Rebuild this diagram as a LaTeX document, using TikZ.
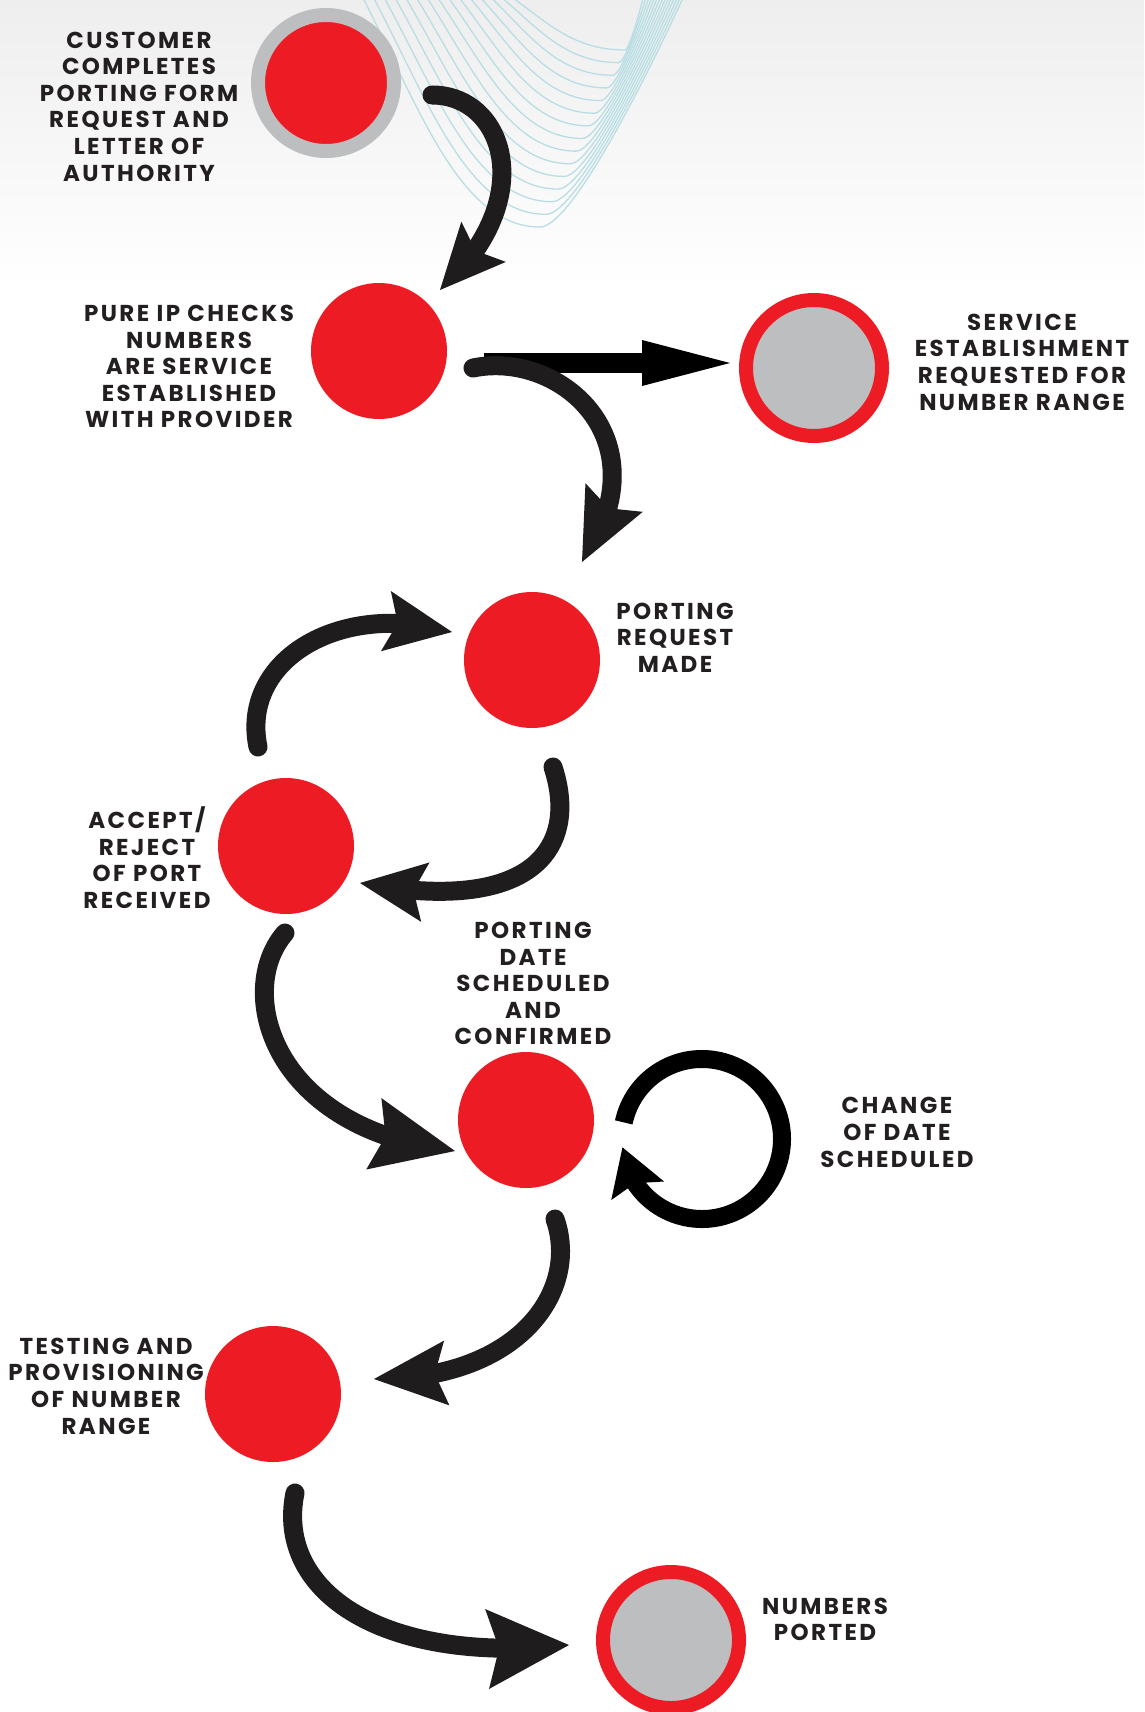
\documentclass[tikz,border=0pt]{standalone}
\usepackage{fontspec}
\setmainfont{Poppins}[LetterSpace=10.5]
\usetikzlibrary{arrows.meta,bending,calc}
\definecolor{pred}{HTML}{ED1C24}
\definecolor{pgrey}{HTML}{BCBEC0}
\definecolor{pblack}{HTML}{231F20}
\definecolor{arrowc}{HTML}{1E1C1C}
\definecolor{wavec}{HTML}{B8DEE4}
\definecolor{bgtop}{HTML}{EEEEEE}
\begin{document}
\begin{tikzpicture}[x=1pt,y=-1pt,
  dot/.style={circle, fill=pred, minimum size=136pt, inner sep=0pt},
  ring/.style={circle, fill=pgrey, draw=pred, line width=14pt, minimum size=136pt, inner sep=0pt},
  greyring/.style={circle, fill=pred, draw=pgrey, line width=14pt, minimum size=136pt, inner sep=0pt},
  lbl/.style={align=center, inner sep=0pt, text=pblack, font=\fontsize{23}{26.6}\selectfont\bfseries},
  flow/.style n args={2}{draw=arrowc, line width=19pt, line cap=round, -{Stealth[length=#1 0, width=#2 0, inset=12pt 0, line width=0pt 0]}},
  wave/.style={draw=wavec, line width=1.3pt}
]
\useasboundingbox (0,0) rectangle (1144,1712);
\fill[white] (0,0) rectangle (1144,1712);
\fill[top color=bgtop, bottom color=white] (0,0) rectangle (1144,290);

% background waves
\begin{scope}
\clip (0,0) rectangle (1144,300);
\foreach \i in {0,...,14}{
 \pgfmathsetmacro\f{\i/14}
 \pgfmathsetmacro\sx{363+150*\f}
 \pgfmathsetmacro\bx{540+85*\f}
 \pgfmathsetmacro\by{227-177*\f}
 \pgfmathsetmacro\ex{683-40*\f}
 \pgfmathsetmacro\ca{\sx+0.32*(\bx-\sx)}
 \pgfmathsetmacro\cb{0.48*\by}
 \pgfmathsetmacro\cc{\bx-0.45*(\bx-\sx)}
 \pgfmathsetmacro\cd{\bx+0.21*(\ex-\bx)}
 \pgfmathsetmacro\ce{\ex-0.3*(\ex-\bx)}
 \pgfmathsetmacro\cf{0.4*\by}
 \draw[wave] (\sx,-2) .. controls (\ca,\cb) and (\cc,\by) .. (\bx,\by) .. controls (\cd,\by) and (\ce,\cf) .. (\ex,-2);
}
\end{scope}

% nodes
\node[greyring] (cust) at (326,83) {};
\node[dot] (pip) at (379,351) {};
\node[ring] (svc) at (814,368) {};
\node[dot] (preq) at (532,660) {};
\node[dot] (acc) at (286,846) {};
\node[dot] (date) at (526,1120) {};
\node[dot] (test) at (273,1394) {};
\node[ring] (num) at (671,1640) {};

% labels
\node[lbl] (custL) at (139,106.5) {CUSTOMER\\COMPLETES\\PORTING FORM\\REQUEST AND\\LETTER OF\\AUTHORITY};
\node[lbl] (pipL) at (189,366.5) {PURE IP CHECKS\\NUMBERS\\ARE SERVICE\\ESTABLISHED\\WITH PROVIDER};
\node[lbl] (svcL) at (1022,362) {SERVICE\\ESTABLISHMENT\\REQUESTED FOR\\NUMBER RANGE};
\node[lbl] (preqL) at (675,637.5) {PORTING\\REQUEST\\MADE};
\node[lbl] (accL) at (147,857.5) {ACCEPT/\\REJECT\\OF PORT\\RECEIVED};
\node[lbl] (dateL) at (533,983.5) {PORTING\\DATE\\SCHEDULED\\AND\\CONFIRMED};
\node[lbl] (chgL) at (897,1132.5) {CHANGE\\OF DATE\\SCHEDULED};
\node[lbl] (testL) at (106,1386) {TESTING AND\\PROVISIONING\\OF NUMBER\\RANGE};
\node[lbl] (numL) at (825,1619.5) {NUMBERS\\PORTED};

% connector end points
\coordinate (custOut) at ($(cust)+(106,12)$);
\coordinate (pipIn) at ($(pip)+(61,-61)$);
\coordinate (pipOut) at ($(pip)+(94,17)$);
\coordinate (pipOut2) at ($(pip)+(105,12)$);
\coordinate (svcIn) at ($(svc)+(-84,-5)$);
\coordinate (preqIn) at ($(preq)+(50,-98)$);
\coordinate (accOut) at ($(acc)+(-28,-99)$);
\coordinate (preqIn2) at ($(preq)+(-80,-28)$);
\coordinate (preqOut) at ($(preq)+(21,107)$);
\coordinate (accIn) at ($(acc)+(74,37)$);
\coordinate (accOut2) at ($(acc)+(-1,87)$);
\coordinate (dateIn) at ($(date)+(-71,31)$);
\coordinate (dateOut) at ($(date)+(29,99)$);
\coordinate (testIn) at ($(test)+(101,-15)$);
\coordinate (testOut) at ($(test)+(22,99)$);
\coordinate (numIn) at ($(num)+(-102,5)$);

% connectors
\draw[flow={65pt}{60pt}] (custOut) .. controls (505,95) and (540,200) .. (pipIn);
\draw[draw=black, line width=20pt, -{Triangle[length=88pt 0, width=46pt 0, line width=0pt 0]}] (pipOut2) -- (svcIn);
\draw[flow={72pt}{64pt}] (pipOut) .. controls (560,350) and (665,440) .. (preqIn);
\draw[flow={67pt}{61pt}] (accOut) .. controls (240,660) and (340,600) .. (preqIn2);
\draw[flow={66pt}{60pt}] (preqOut) .. controls (580,850) and (530,915) .. (accIn);
\draw[flow={83pt}{73pt}] (accOut2) .. controls (235,990) and (270,1130) .. (dateIn);
\draw[flow={73pt}{65pt}] (dateOut) .. controls (580,1290) and (520,1380) .. (testIn);
\draw[flow={82pt}{80pt}] (testOut) .. controls (275,1590) and (380,1665) .. (numIn);
% self loop on date
\coordinate (loopStart) at ($(date)+(176,19)+(192:80)$);
\draw[draw=black, line width=18pt, -{Stealth[length=46pt 0, width=56pt 0, inset=8pt 0, line width=0pt 0]}] (loopStart) arc[start angle=192, end angle=534, radius=80];
\end{tikzpicture}
\end{document}
